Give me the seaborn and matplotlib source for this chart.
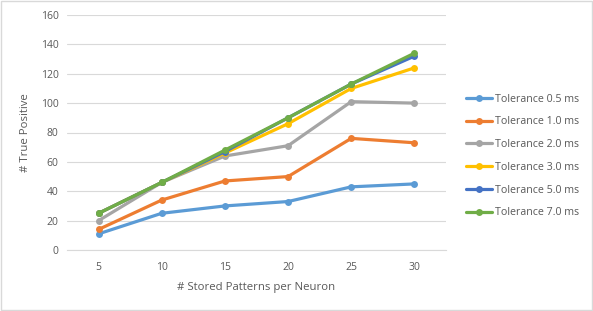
import pandas as pd
import numpy as np
import matplotlib.pyplot as plt
import seaborn as sns
from matplotlib.patches import Rectangle

# data
patterns = ['5', '10', '15', '20', '25', '30']
tol_labels = ['Tolerance 0.5 ms', 'Tolerance 1.0 ms', 'Tolerance 2.0 ms',
              'Tolerance 3.0 ms', 'Tolerance 5.0 ms', 'Tolerance 7.0 ms']
tp_05 = [11, 25, 30, 33, 43, 45]
tp_10 = [14, 34, 47, 50, 76, 73]
tp_20 = [20, 46, 64, 71, 101, 100]
tp_30 = [25, 46, 66, 86, 110, 124]
tp_50 = [25, 46, 67, 90, 113, 132]
tp_70 = [25, 46, 68, 90, 113, 134]
colors = ['#5B9BD5', '#ED7D31', '#A5A5A5', '#FFC000', '#4472C4', '#70AD47']

series = [tp_05, tp_10, tp_20, tp_30, tp_50, tp_70]
rows = []
for lab, vals in zip(tol_labels, series):
    for p, v in zip(patterns, vals):
        rows.append({'patterns': p, 'tp': v, 'tol': lab})
df = pd.DataFrame(rows)

sns.set_style('white')
plt.rcParams['font.family'] = ['Open Sans', 'DejaVu Sans']
text_col = '#595959'

fig = plt.figure(figsize=(5.93, 3.11), dpi=100)
ax = fig.add_axes([67 / 593, 1 - 250 / 311, (446 - 67) / 593, (250 - 15) / 311])

sns.lineplot(data=df, x='patterns', y='tp', hue='tol', hue_order=tol_labels,
             palette=colors, marker='o', markersize=5, markeredgewidth=0,
             linewidth=2.3, ax=ax, sort=False)

ax.set_xlim(-0.5, 5.5)
ax.set_ylim(0, 160)
ax.set_yticks(np.arange(0, 161, 20))
ax.yaxis.grid(True, color='#D9D9D9', linewidth=0.8)
ax.set_axisbelow(True)
for s in ['top', 'right', 'left']:
    ax.spines[s].set_visible(False)
ax.spines['bottom'].set_color('#D9D9D9')
ax.tick_params(axis='both', length=0, labelsize=7.5, colors=text_col, pad=6)
ax.tick_params(axis='x', pad=9)

ax.set_xlabel('# Stored Patterns per Neuron', fontsize=8.2, color=text_col, labelpad=6)
ax.set_ylabel('# True Positive', fontsize=8.2, color=text_col, labelpad=7)

leg = ax.legend(loc='upper left', bbox_to_anchor=(466 / 593, 1 - 93.5 / 311),
                bbox_transform=fig.transFigure, frameon=False, fontsize=7.7,
                handlelength=2.45, handletextpad=0.3, labelspacing=1.1,
                borderpad=0, borderaxespad=0)
for t in leg.get_texts():
    t.set_color(text_col)

# light border around the chart area
fig.patches.append(Rectangle((0.002, 0.003), 0.996, 0.994, transform=fig.transFigure,
                             fill=False, edgecolor='#D9D9D9', linewidth=1))

plt.savefig('out.png', dpi=100)
